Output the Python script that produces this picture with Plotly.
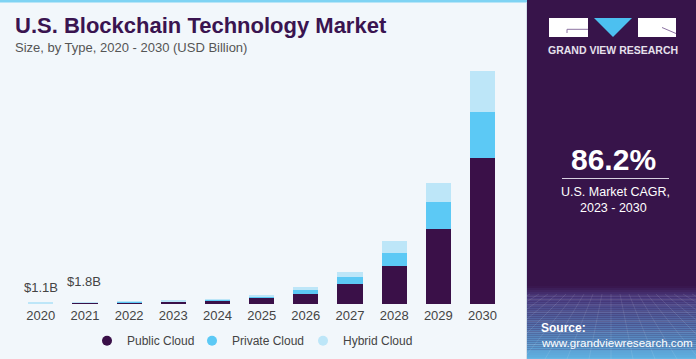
import plotly.graph_objects as go

# ---------------- data ----------------
years = ["2020", "2021", "2022", "2023", "2024", "2025", "2026", "2027", "2028", "2029", "2030"]
public_cloud = [0.75, 1.2, 1.6, 2.0, 3.0, 5.8, 10.0, 20.3, 38.3, 75.0, 145.7]
private_cloud = [0.2, 0.35, 0.5, 0.6, 1.1, 2.0, 3.7, 6.7, 13.0, 26.7, 46.6]
hybrid_cloud = [0.15, 0.25, 0.35, 0.45, 0.9, 1.5, 3.0, 5.3, 11.7, 19.0, 40.7]
value_labels = {"2020": "$1.1B", "2021": "$1.8B"}
series_names = ["Public Cloud", "Private Cloud", "Hybrid Cloud"]

title_text = "U.S. Blockchain Technology Market"
subtitle_text = "Size, by Type, 2020 - 2030 (USD Billion)"
cagr_value = "86.2%"
cagr_line1 = "U.S. Market CAGR,"
cagr_line2 = "2023 - 2030"
brand_text = "GRAND VIEW RESEARCH"
source_label = "Source:"
source_url = "www.grandviewresearch.com"

# ---------------- style ----------------
W, H = 696, 359
FONT = "Liberation Sans, Arial, sans-serif"
BG = "#f2f7fb"
PANEL = "#37144a"
C_PUBLIC = "#3a1048"
C_PRIVATE = "#5cc9f5"
C_HYBRID = "#bde6f8"
TITLE_C = "#3a1450"
TEXT_C = "#444444"


def px(x):
    return x / W


def py(y):
    return 1 - y / H


fig = go.Figure()
series = [public_cloud, private_cloud, hybrid_cloud]
colors = [C_PUBLIC, C_PRIVATE, C_HYBRID]
legend_ids = ["legend", "legend2", "legend3"]
legend_x = [87, 192, 303]
for name, vals, col in zip(series_names, series, colors):
    fig.add_trace(go.Bar(
        x=years, y=vals, name=name, marker=dict(color=col, line=dict(width=0)),
        showlegend=False, hoverinfo="x+y+name"))
# legend entries with circle symbols, one legend per entry
for name, col, lid in zip(series_names, colors, legend_ids):
    fig.add_trace(go.Scatter(
        x=[years[0]], y=[None], mode="markers", name=name, legend=lid,
        marker=dict(color=col, size=10, symbol="circle")))

totals = [a + b + c for a, b, c in zip(public_cloud, private_cloud, hybrid_cloud)]
label_shift = {"2020": 6, "2021": 11}
annotations = []
for yr, txt in value_labels.items():
    i = years.index(yr)
    annotations.append(dict(
        x=i, y=totals[i], xref="x", yref="y", text=txt, showarrow=False,
        yanchor="bottom", yshift=label_shift[yr], xshift=(-1 if yr == "2021" else 0),
        font=dict(family=FONT, size=13, color=TEXT_C)))

# titles
annotations.append(dict(x=px(13), y=py(25.5), xref="paper", yref="paper", text="<b>%s</b>" % title_text,
                        showarrow=False, xanchor="left", yanchor="middle",
                        font=dict(family=FONT, size=22, color=TITLE_C)))
annotations.append(dict(x=px(13), y=py(47.5), xref="paper", yref="paper", text=subtitle_text,
                        showarrow=False, xanchor="left", yanchor="middle",
                        font=dict(family=FONT, size=13, color="#555555")))
# right panel texts
cx = 613
annotations.append(dict(x=px(cx), y=py(50.5), xref="paper", yref="paper", text="<b>%s</b>" % brand_text,
                        showarrow=False, xanchor="center", yanchor="middle",
                        font=dict(family=FONT, size=10.5, color="#e6e0ec")))
annotations.append(dict(x=px(cx), y=py(159.5), xref="paper", yref="paper", text="<b>%s</b>" % cagr_value,
                        showarrow=False, xanchor="center", yanchor="middle",
                        font=dict(family=FONT, size=30, color="white")))
annotations.append(dict(x=px(cx + 2), y=py(192), xref="paper", yref="paper", text=cagr_line1,
                        showarrow=False, xanchor="center", yanchor="middle",
                        font=dict(family=FONT, size=12.5, color="white")))
annotations.append(dict(x=px(cx), y=py(207.5), xref="paper", yref="paper", text=cagr_line2,
                        showarrow=False, xanchor="center", yanchor="middle",
                        font=dict(family=FONT, size=12.5, color="white")))
annotations.append(dict(x=px(539), y=py(328), xref="paper", yref="paper", text="<b>%s</b>" % source_label,
                        showarrow=False, xanchor="left", yanchor="middle",
                        font=dict(family=FONT, size=12, color="white")))
annotations.append(dict(x=px(539), y=py(342), xref="paper", yref="paper", text=source_url,
                        showarrow=False, xanchor="left", yanchor="middle",
                        font=dict(family=FONT, size=11.6, color="white")))

shapes = []
# top light-blue strip
shapes.append(dict(type="rect", xref="paper", yref="paper", x0=0, x1=px(527), y0=py(2.5), y1=1,
                   fillcolor="#7fd3f3", line=dict(width=0), layer="below"))
# right panel
shapes.append(dict(type="rect", xref="paper", yref="paper", x0=px(527), x1=1, y0=0, y1=1,
                   fillcolor=PANEL, line=dict(width=0), layer="below"))
shapes.append(dict(type="line", xref="paper", yref="paper", x0=px(526.5), x1=px(526.5), y0=0, y1=py(2.5),
                   line=dict(color="#d3dee8", width=1), layer="below"))


def lerp(c1, c2, t):
    a = [int(c1[i:i + 2], 16) for i in (1, 3, 5)]
    b = [int(c2[i:i + 2], 16) for i in (1, 3, 5)]
    return "rgb(%d,%d,%d)" % tuple(round(a[k] + (b[k] - a[k]) * t) for k in range(3))


g0, g1 = 286, 359
steps = 37
for s in range(steps):
    y0 = g0 + (g1 - g0) * s / steps
    y1 = g0 + (g1 - g0) * (s + 1) / steps
    t = (s + 0.5) / steps
    if t < 0.15:
        col = lerp(PANEL, "#4a3a7e", t / 0.15)
    else:
        col = lerp("#4a3a7e", "#5fb2e2", (t - 0.15) / 0.85)
    shapes.append(dict(type="rect", xref="paper", yref="paper", x0=px(527), x1=1, y0=py(y1), y1=py(y0),
                       fillcolor=col, line=dict(width=0), layer="below"))
# faint perspective grid
for k in range(8):
    yy = 296 + k * (k + 3) * 0.9
    shapes.append(dict(type="line", xref="paper", yref="paper", x0=px(527), x1=1, y0=py(yy), y1=py(yy),
                       line=dict(color="rgba(255,255,255,0.13)", width=1), layer="below"))
for k in range(-10, 11):
    xt = 611 + k * 9
    xb = 611 + k * 22
    shapes.append(dict(type="line", xref="paper", yref="paper", x0=px(xt), x1=px(xb), y0=py(294), y1=py(359),
                       line=dict(color="rgba(255,255,255,0.10)", width=1), layer="below"))

# logo
shapes.append(dict(type="rect", xref="paper", yref="paper", x0=px(549), x1=px(588), y0=py(37), y1=py(18),
                   fillcolor="white", line=dict(width=0)))
shapes.append(dict(type="rect", xref="paper", yref="paper", x0=px(638), x1=px(676), y0=py(37), y1=py(18),
                   fillcolor="white", line=dict(width=0)))
shapes.append(dict(type="path", xref="paper", yref="paper",
                   path="M %f,%f L %f,%f L %f,%f Z" % (px(594), py(18), px(632), py(18), px(613), py(37)),
                   fillcolor="#4cc0f0", line=dict(width=0)))
shapes.append(dict(type="line", xref="paper", yref="paper", x0=px(567), x1=px(588), y0=py(29.3), y1=py(29.3),
                   line=dict(color="#8c72a2", width=1)))
shapes.append(dict(type="line", xref="paper", yref="paper", x0=px(567), x1=px(567), y0=py(29.3), y1=py(33),
                   line=dict(color="#8c72a2", width=1)))
shapes.append(dict(type="line", xref="paper", yref="paper", x0=px(662), x1=px(676), y0=py(27.5), y1=py(33.5),
                   line=dict(color="#8c72a2", width=1)))
# CAGR underline
shapes.append(dict(type="line", xref="paper", yref="paper", x0=px(562), x1=px(669), y0=py(178.5), y1=py(178.5),
                   line=dict(color="#d8d0e0", width=1)))

legend_common = dict(orientation="h", xanchor="left", y=py(340.7), yanchor="middle",
                     font=dict(family=FONT, size=12, color=TEXT_C), bgcolor="rgba(0,0,0,0)",
                     itemclick=False, itemdoubleclick=False)

fig.update_layout(
    width=W, height=H,
    margin=dict(l=0, r=0, t=0, b=0, autoexpand=False),
    paper_bgcolor=BG, plot_bgcolor=BG,
    barmode="stack", bargap=0.43,
    font=dict(family=FONT, color=TEXT_C),
    xaxis=dict(domain=[px(18.7), px(504.6)], type="category", categoryorder="array", categoryarray=years,
               range=[-0.5, len(years) - 0.5], showgrid=False, zeroline=False, ticklabelstandoff=2,
               showline=False, ticks="", tickfont=dict(family=FONT, size=13, color=TEXT_C), fixedrange=True),
    yaxis=dict(domain=[py(304), py(64)], range=[0, 240], visible=False, showgrid=False, fixedrange=True),
    legend=dict(x=px(legend_x[0]), **legend_common),
    legend2=dict(x=px(legend_x[1]), **legend_common),
    legend3=dict(x=px(legend_x[2]), **legend_common),
    annotations=annotations,
    shapes=shapes,
    showlegend=True,
)

fig.write_html("out.html", config={"displayModeBar": False},
               post_script="document.body.style.margin='0';document.body.style.padding='0';document.body.style.overflow='hidden';")
